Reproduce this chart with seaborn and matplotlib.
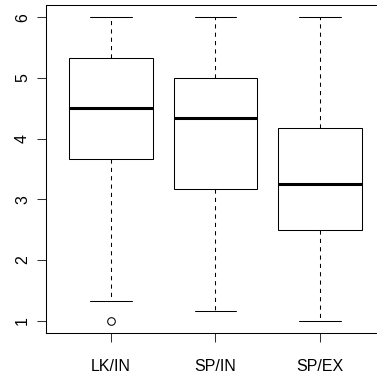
import matplotlib
matplotlib.use("Agg")
import matplotlib.pyplot as plt
import seaborn as sns
import pandas as pd

# Scores per condition (1-6 scale, averaged items)
groups = ["LK/IN", "SP/IN", "SP/EX"]
lk_in = [1.0, 1.333, 3.667, 4.0, 4.5, 5.0, 5.333, 5.667, 6.0]
sp_in = [1.167, 2.5, 3.167, 3.833, 4.333, 4.667, 5.0, 5.5, 6.0]
sp_ex = [1.0, 2.0, 2.5, 3.0, 3.25, 3.667, 4.167, 5.0, 6.0]
y_ticks = [1, 2, 3, 4, 5, 6]

df = pd.DataFrame({
    "group": [groups[0]] * len(lk_in) + [groups[1]] * len(sp_in) + [groups[2]] * len(sp_ex),
    "score": lk_in + sp_in + sp_ex,
})

sns.set_style("ticks")
plt.rcParams["font.family"] = ["Liberation Sans", "DejaVu Sans"]

fig = plt.figure(figsize=(3.77, 3.76), dpi=100)
ax = fig.add_axes([0.122, 0.1144, 0.899, 0.8723])

lw = 0.75
sns.boxplot(
    data=df, x="group", y="score", order=groups, ax=ax,
    color="white", linecolor="black", linewidth=lw, width=0.8,
    saturation=1, whis=1.5,
    medianprops=dict(linewidth=2.2, color="black"),
    whiskerprops=dict(linestyle=(0, (4, 4)), linewidth=lw, color="black"),
    capprops=dict(linewidth=lw, color="black"),
    flierprops=dict(marker="o", markerfacecolor="none", markeredgecolor="black",
                    markersize=5.5, markeredgewidth=lw),
)

ax.set_xlim(-0.62, 2.62)
ax.set_ylim(0.8, 6.2)
ax.set_yticks(y_ticks)
ax.set_yticklabels([str(t) for t in y_ticks])
ax.set_xlabel("")
ax.set_ylabel("")

for name, s in ax.spines.items():
    s.set_visible(name != "right")
    s.set_color("black")
    s.set_linewidth(lw)

ax.tick_params(axis="both", length=6.5, width=lw, color="#333333",
               labelsize=11.5, labelcolor="black")
ax.tick_params(axis="x", pad=12)
ax.tick_params(axis="y", pad=5)
for lab in ax.get_yticklabels():
    lab.set_rotation(90)
    lab.set_va("center")
    lab.set_ha("right")

fig.savefig("out.png", dpi=100)
